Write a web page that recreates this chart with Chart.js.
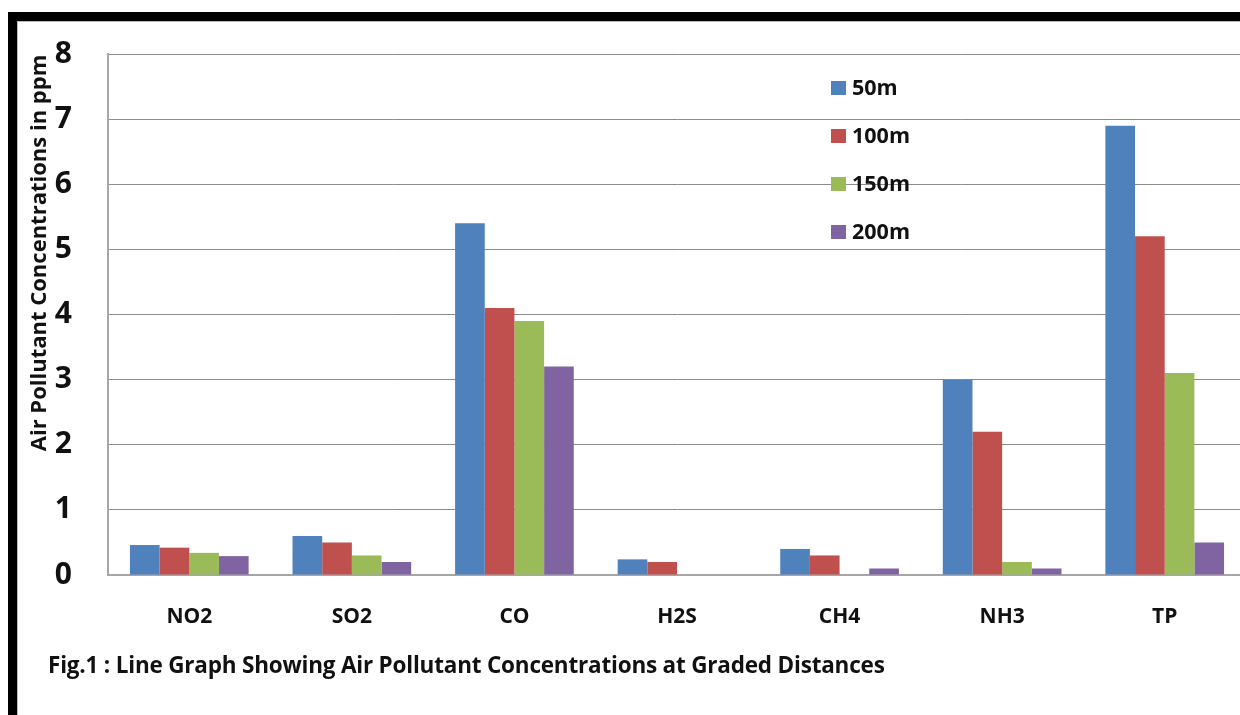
<!DOCTYPE html>
<html>
<head>
<meta charset="utf-8">
<script src="https://cdn.jsdelivr.net/npm/chart.js@4.4.1/dist/chart.umd.min.js"></script>
<style>
  html, body { margin: 0; padding: 0; background: #fff; overflow: hidden; }
  #wrap { position: relative; width: 1240px; height: 715px; overflow: hidden; }
  #topBar { position: absolute; left: 8px; top: 12px; width: 1240px; height: 9px; background: #000; }
  #leftBar { position: absolute; left: 8px; top: 12px; width: 9px; height: 720px; background: #000; }
  #topLine { position: absolute; left: 17px; top: 21px; width: 1230px; height: 1px; background: #bbb; }
  #leftLine { position: absolute; left: 17px; top: 21px; width: 1px; height: 700px; background: #bbb; }
  #box { position: absolute; left: 0; top: 0; width: 1246px; height: 715px; }
  #caption { position: absolute; left: 48px; top: 649px; font: bold 22.5px "Open Sans", sans-serif; color: #111; white-space: nowrap; letter-spacing: -0.2px; }
</style>
</head>
<body>
<div id="wrap">
  <div id="box"><canvas id="myChart" width="1246" height="715"></canvas></div>
  <div id="topBar"></div>
  <div id="leftBar"></div>
  <div id="topLine"></div>
  <div id="leftLine"></div>
  <div id="caption">Fig.1 : Line Graph Showing Air Pollutant Concentrations at Graded Distances</div>
</div>
<script>
let kategorien = ["NO2", "SO2", "CO", "H2S", "CH4", "NH3", "TP"];

let werte50m  = [0.46, 0.6, 5.4, 0.24, 0.4, 3.0, 6.9];
let werte100m = [0.42, 0.5, 4.1, 0.2, 0.3, 2.2, 5.2];
let werte150m = [0.34, 0.3, 3.9, 0, 0, 0.2, 3.1];
let werte200m = [0.29, 0.2, 3.2, 0, 0.1, 0.1, 0.5];

let yTicks = [0, 1, 2, 3, 4, 5, 6, 7, 8];
let yTitel = "Air Pollutant Concentrations in ppm";

let grafikData =
{
    labels: kategorien,
    datasets:
    [
        { label: "50m",  backgroundColor: "#4F81BD", data: werte50m },
        { label: "100m", backgroundColor: "#C0504D", data: werte100m },
        { label: "150m", backgroundColor: "#9BBB59", data: werte150m },
        { label: "200m", backgroundColor: "#8064A2", data: werte200m }
    ]
};

// Legende und Achsentitel selbst zeichnen (Excel-Stil)
const eigeneLegende =
{
    id: "eigeneLegende",
    afterDraw(chart)
    {
        const ctx = chart.ctx;
        ctx.save();
        ctx.font = "bold 21.5px 'Open Sans', sans-serif";
        ctx.textBaseline = "middle";
        chart.data.datasets.forEach(function(ds, i)
        {
            const y = 88 + i * 48;
            ctx.fillStyle = ds.backgroundColor;
            ctx.fillRect(831, y - 7, 15, 14);
            ctx.fillStyle = "#111";
            ctx.fillText(ds.label, 852, y + 1);
        });

        ctx.translate(40, 253);
        ctx.rotate(-Math.PI / 2);
        ctx.textAlign = "center";
        ctx.font = "bold 22px 'Open Sans', sans-serif";
        ctx.fillText(yTitel, 0, 0);
        ctx.restore();
    }
};

const config =
{
    type: "bar",
    data: grafikData,
    plugins: [eigeneLegende],
    options:
    {
        responsive: false,
        animation: false,
        layout: { padding: { left: 0, top: 53, right: 0, bottom: 80 } },
        plugins:
        {
            legend: { display: false },
            tooltip: { enabled: false }
        },
        datasets: { bar: { categoryPercentage: 0.73, barPercentage: 1 } },
        scales:
        {
            x:
            {
                grid: { display: false, drawTicks: false },
                border: { display: true, color: "#a6a6a6", width: 2 },
                ticks: { color: "#111", padding: 29, font: { family: "Open Sans", size: 21, weight: "bold" } },
                afterFit(scale) { scale.height = 60; }
            },
            y:
            {
                min: 0,
                max: 8,
                afterBuildTicks(scale) { scale.ticks = yTicks.map(v => ({ value: v })); },
                grid: { color: "#8c8c8c", lineWidth: 1, drawTicks: false },
                border: { display: true, color: "#a6a6a6", width: 2 },
                ticks: { color: "#111", padding: 36, font: { family: "Open Sans", size: 30, weight: "bold" } },
                afterFit(scale) { scale.width = 108; }
            }
        }
    }
};

new Chart(document.getElementById("myChart"), config);
</script>
</body>
</html>
